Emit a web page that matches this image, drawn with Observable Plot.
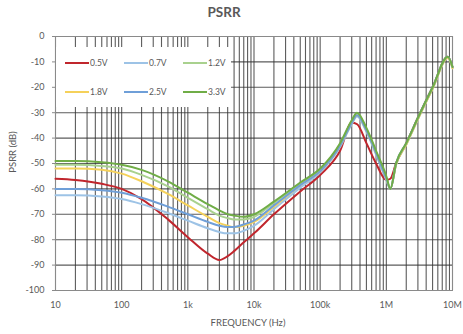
<!DOCTYPE html>
<html>
<head>
<meta charset="utf-8">
<script src="https://cdn.jsdelivr.net/npm/d3@7"></script>
<script src="https://cdn.jsdelivr.net/npm/@observablehq/plot@0.6"></script>
<style>
  html, body { margin: 0; padding: 0; background: #fff; }
  #wrap { position: relative; width: 463px; height: 334px; font-family: Lato, "Open Sans", sans-serif; color: #595959; }
  #title { position: absolute; top: 4px; left: 0; width: 448px; text-align: center; font-size: 13.5px; font-weight: bold; color: #595959; }
  #legend { position: absolute; left: 56px; top: 47px; width: 175px; height: 60px; background: #fff; }
  .item { position: absolute; display: flex; align-items: center; font-size: 8.5px; color: #595959; height: 12px; }
  .item svg { display: block; margin-right: 1px; }
</style>
</head>
<body>
<div id="wrap">
  <div id="title">PSRR</div>
  <div id="chart"></div>
  <div id="legend"></div>
</div>
<script>
// Frequencies (Hz)
const freq = [10, 20, 50, 100, 200, 500, 1e3, 2e3, 3e3, 4e3, 5e3, 7e3, 1e4, 2e4, 5e4, 1e5, 2e5, 3e5, 3.6e5, 5e5, 7e5, 1e6, 1.15e6, 1.4e6, 2e6, 3e6, 5e6, 8.5e6, 1e7];

// PSRR (dB) per supply voltage
const v05 = [-56, -56.5, -58, -60, -64, -72, -79, -85.5, -88, -86.5, -84.5, -81, -77.5, -70, -61, -54.5, -45, -34, -34.5, -42, -50, -56.5, -56, -50, -42, -32, -20, -8, -12];
const v07 = [-62.5, -62.5, -63, -64, -66, -69.5, -72.5, -75.5, -77, -77.5, -77.5, -76.5, -74.5, -68, -59.5, -53.5, -43.5, -34.5, -31.5, -37.5, -46.5, -56.5, -60, -50.5, -42.5, -32.5, -20.5, -8.5, -12.5];
const v12 = [-50.5, -50.5, -51, -52, -54.5, -59, -63.5, -68, -70.5, -71.5, -72, -72, -71, -65.5, -58, -52.5, -42.5, -33.5, -30.5, -36.5, -45.5, -55.5, -60, -50.5, -42.5, -32.5, -20.5, -8, -12];
const v18 = [-52, -52, -52.5, -54, -57, -62, -66.5, -71, -73.5, -74.5, -75, -74.5, -73, -67, -58.5, -53, -43, -34, -31, -37, -46, -56, -60, -50.5, -42.5, -32.5, -20.5, -8.5, -12.5];
const v25 = [-60, -60, -60.5, -61.5, -63.5, -67, -70, -73, -74.5, -75, -75, -74, -72.5, -66.5, -58.5, -53, -43, -34, -31, -37, -46, -56, -60, -50, -42, -32, -20, -8, -12];
const v33 = [-49, -49, -49.5, -50.5, -52.5, -57, -61.5, -66, -68.5, -70, -70.5, -71, -70, -65, -57.5, -52, -42, -33, -30, -36, -45, -55, -60, -50, -42, -32, -20, -8, -12];

const seriesNames = ["0.5V", "0.7V", "1.2V", "1.8V", "2.5V", "3.3V"];
const seriesValues = [v05, v07, v12, v18, v25, v33];
const seriesColors = ["#c0262d", "#9dc3e6", "#a9d18e", "#f5d15a", "#6f9fd8", "#70ad47"];

const xTicks = [10, 100, 1e3, 1e4, 1e5, 1e6, 1e7];
const xTickLabels = ["10", "100", "1k", "10k", "100k", "1M", "10M"];
const yTicks = [0, -10, -20, -30, -40, -50, -60, -70, -80, -90, -100];

// minor grid positions 1..9 per decade
const gridX = [];
for (let e = 1; e < 7; e++) for (let m = 1; m < 10; m++) gridX.push(m * Math.pow(10, e));
gridX.push(1e7);

const rows = [];
seriesNames.forEach((name, i) => {
  freq.forEach((f, j) => rows.push({ series: name, f, db: seriesValues[i][j] }));
});

const chart = Plot.plot({
  width: 463,
  height: 334,
  marginLeft: 55,
  marginRight: 11,
  marginTop: 36,
  marginBottom: 44,
  style: { fontFamily: "Lato, 'Open Sans', sans-serif", fontSize: "9px", color: "#595959", background: "#fff" },
  x: { type: "log", domain: [10, 1e7], label: null },
  y: { domain: [-100, 0], label: null },
  color: { domain: seriesNames, range: seriesColors },
  marks: [
    Plot.gridX(gridX, { stroke: "#333", strokeOpacity: 0.8, strokeWidth: 1.1 }),
    Plot.gridY(yTicks, { stroke: "#333", strokeOpacity: 0.8, strokeWidth: 1.1 }),
    Plot.frame({ stroke: "#8a8a8a" }),
    Plot.axisX(xTicks, { tickFormat: (d) => xTickLabels[xTicks.indexOf(d)], tickSize: 0, tickPadding: 11, fill: "#595959", fontSize: 9 }),
    Plot.axisY(yTicks, { tickFormat: d => String(d), tickSize: 3, tickPadding: 8, fill: "#595959", stroke: "#8a8a8a", fontSize: 9 }),
    Plot.line(rows, { x: "f", y: "db", z: "series", stroke: "series", strokeWidth: 2, curve: "monotone-x" })
  ]
});
document.getElementById("chart").appendChild(chart);

// axis titles (text in SVG)
const svg = d3.select(chart);
svg.append("text").attr("x", 248).attr("y", 326).attr("text-anchor", "middle")
  .attr("font-size", "9.5px").attr("fill", "#595959").text("FREQUENCY (Hz)");
svg.append("text").attr("transform", "translate(16,152) rotate(-90)").attr("text-anchor", "middle")
  .attr("font-size", "9.5px").attr("fill", "#595959").text("PSRR (dB)");

// legend
const legend = document.getElementById("legend");
seriesNames.forEach((name, i) => {
  const col = i % 3, row = Math.floor(i / 3);
  const it = document.createElement("div");
  it.className = "item";
  it.style.left = (9 + col * 59) + "px";
  it.style.top = (9.5 + row * 29) + "px";
  it.innerHTML = `<svg width="24" height="4"><line x1="0" y1="2" x2="24" y2="2" stroke="${seriesColors[i]}" stroke-width="2"/></svg><span>${name}</span>`;
  legend.appendChild(it);
});
</script>
</body>
</html>
